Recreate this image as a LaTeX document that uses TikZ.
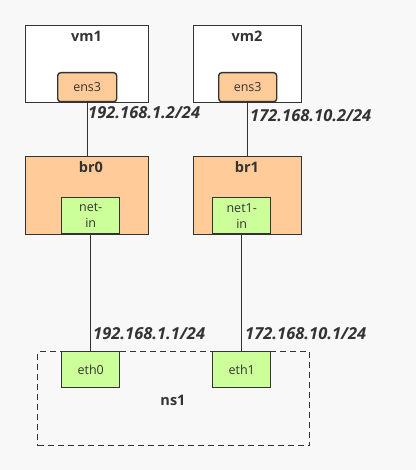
\documentclass[tikz,border=0pt]{standalone}
\usepackage{fontspec}
\setmainfont{Open Sans}
\definecolor{bg}{HTML}{F8F8F8}
\definecolor{peach}{HTML}{FFCC99}
\definecolor{lgreen}{HTML}{CCFF99}
\definecolor{edge}{HTML}{333333}
\begin{document}
\begin{tikzpicture}[x=1pt,y=-1pt,
  box/.style={draw=edge,line width=1.4pt,inner sep=0pt,anchor=north west},
  title/.style={font=\bfseries\fontsize{14.5}{17}\selectfont,text=edge},
  port/.style={draw=edge,line width=1.4pt,inner sep=0pt,anchor=north west,font=\fontsize{12.5}{16}\selectfont,text=edge,align=center},
  ip/.style={font=\bfseries\itshape\fontsize{16.5}{19}\selectfont,text=edge,anchor=west,inner sep=0pt},
  wire/.style={draw=edge,line width=1.4pt}]
\fill[bg] (0,0) rectangle (416,470);
\useasboundingbox (0,0) rectangle (416,470);
% VMs
\node[box,fill=white,minimum width=123pt,minimum height=77pt] (vm1) at (25,25) {};
\node[title] at (86.5,36) {vm1};
\node[box,fill=white,minimum width=108pt,minimum height=77pt] (vm2) at (193,25) {};
\node[title] at (247,36) {vm2};
\node[port,fill=peach,rounded corners=3pt,minimum width=59pt,minimum height=29pt] (e1) at (57,72) {ens3};
\node[port,fill=peach,rounded corners=3pt,minimum width=58pt,minimum height=29pt] (e2) at (218,72) {ens3};
% bridges
\node[box,fill=peach,minimum width=123pt,minimum height=78pt] (br0) at (25,156) {};
\node[title] at (91,167) {br0};
\node[box,fill=peach,minimum width=108pt,minimum height=78pt] (br1) at (193,156) {};
\node[title] at (247,167) {br1};
\node[port,fill=lgreen,minimum width=58pt,minimum height=36pt] (n0) at (61,197) {net-\\in};
\node[port,fill=lgreen,minimum width=58pt,minimum height=36pt] (n1) at (212,197) {net1-\\in};
% namespace
\node[box,dashed,dash pattern=on 6pt off 4pt,minimum width=272pt,minimum height=94pt] (ns) at (37,351) {};
\node[title] at (173,400) {ns1};
\node[port,fill=lgreen,minimum width=58pt,minimum height=36pt] (eth0) at (61,351) {eth0};
\node[port,fill=lgreen,minimum width=58pt,minimum height=36pt] (eth1) at (212,351) {eth1};
% wires
\draw[wire] (e1.south) -- (e1.south |- br0.north);
\draw[wire] (e2.south) -- (e2.south |- br1.north);
\draw[wire] (n0.south) -- (eth0.north);
\draw[wire] (n1.south) -- (eth1.north);
% labels
\node[ip] (l1) at (88,113) {192.168.1.2/24};
\node[ip] (l2) at (250,116) {172.168.10.2/24};
\node[ip] (l3) at (93,334) {192.168.1.1/24};
\node[ip] (l4) at (245,334) {172.168.10.1/24};
\end{tikzpicture}
\end{document}
